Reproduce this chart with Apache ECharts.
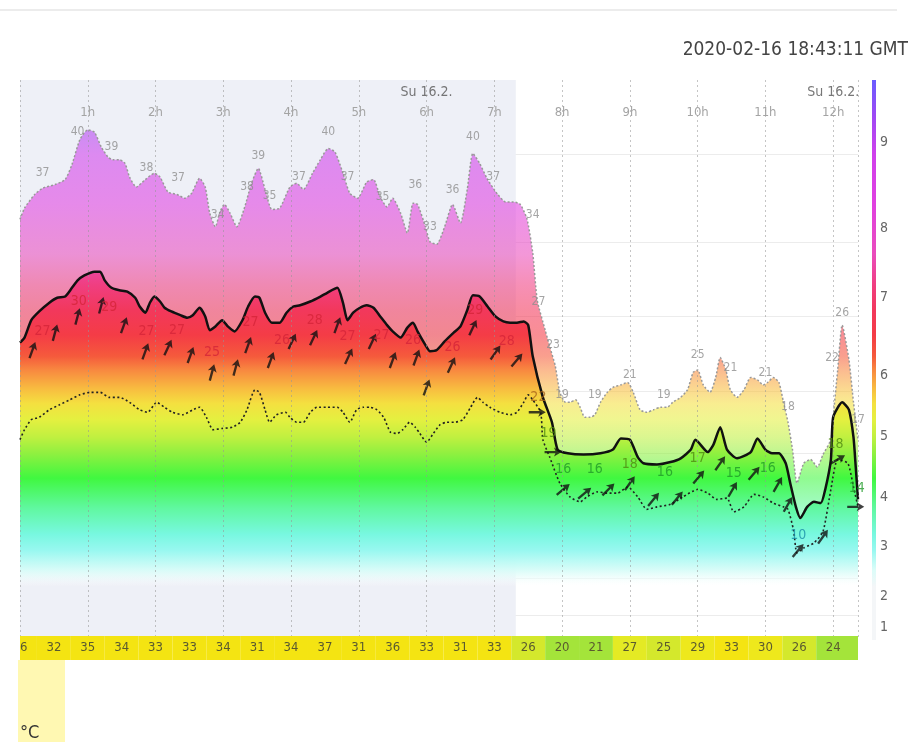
<!DOCTYPE html>
<html>
<head>
<meta charset="utf-8">
<script src="https://cdn.jsdelivr.net/npm/echarts@6/dist/echarts.min.js"></script>
<style>html,body{margin:0;padding:0;background:#fff}#c{width:915px;height:742px}</style>
</head>
<body>
<div id="c"></div>
<script>
// ---- data (time in minutes since 00:00, wind in knots) ----
const gust = [[0,35.8],[4,36.7],[13,37.8],[20,38.3],[31,38.6],[40,39.0],[46,40.2],[53,42.2],[60,43.0],[66,42.8],[72,41.6],[78,40.8],[82,40.6],[88,40.6],[93,40.3],[97,39.2],[103,38.4],[111,39.0],[119,39.5],[124,39.2],[131,38.0],[139,37.8],[146,37.5],[152,37.9],[159,39.1],[164,38.4],[168,36.3],[173,35.2],[177,36.4],[181,37.0],[186,36.3],[192,35.2],[199,36.8],[205,38.7],[211,39.9],[217,38.2],[223,36.6],[230,36.7],[239,38.4],[245,38.7],[251,38.2],[259,39.5],[266,40.6],[273,41.5],[279,41.2],[286,39.5],[292,37.9],[299,37.5],[307,38.8],[313,39.0],[319,37.6],[325,36.8],[330,37.5],[337,36.3],[343,34.7],[348,37.1],[352,37.0],[359,35.2],[363,34.0],[369,33.8],[376,35.2],[383,37.0],[390,35.5],[396,38.2],[401,41.1],[407,40.3],[414,39.0],[423,37.8],[430,37.2],[437,37.2],[443,37.0],[449,35.8],[454,33.1],[458,29.3],[465,26.9],[469,25.6],[474,24.0],[478,21.9],[483,21.1],[487,21.1],[492,21.3],[496,20.7],[500,19.9],[505,19.9],[509,20.1],[514,21.1],[520,21.9],[525,22.3],[532,22.5],[538,22.7],[543,21.9],[549,20.5],[555,20.3],[561,20.5],[567,20.7],[573,20.7],[578,21.1],[585,21.5],[591,22.1],[596,23.5],[600,23.7],[605,22.5],[611,21.9],[616,23.1],[620,24.7],[625,23.7],[629,22.1],[635,21.5],[641,22.1],[647,23.1],[653,22.9],[658,22.5],[662,22.7],[667,23.1],[672,22.7],[676,21.1],[680,19.5],[684,17.3],[688,14.6],[694,16.2],[700,16.5],[706,15.9],[711,16.9],[718,18.1],[720,19.9],[724,23.7],[728,27.3],[734,24.5],[738,21.1],[742,18.1]];

const mean = [[0,25.9],[4,26.3],[10,27.7],[17,28.4],[26,29.1],[33,29.5],[40,29.6],[46,30.3],[51,30.9],[57,31.3],[66,31.6],[71,31.6],[75,30.9],[81,30.3],[88,30.1],[95,30.0],[102,29.5],[106,28.8],[111,28.3],[115,29.1],[119,29.6],[124,29.2],[128,28.7],[134,28.4],[142,28.1],[148,27.9],[153,28.1],[159,28.7],[164,28.0],[168,26.9],[173,27.2],[179,27.7],[184,27.2],[190,26.8],[197,27.7],[202,28.8],[208,29.6],[212,29.5],[217,28.3],[223,27.5],[230,27.5],[236,28.3],[242,28.8],[248,28.9],[257,29.2],[266,29.6],[272,29.9],[281,30.3],[286,29.1],[290,27.7],[295,28.3],[301,28.7],[307,28.9],[313,28.7],[319,28.0],[325,27.3],[330,26.8],[337,26.3],[343,27.1],[348,27.5],[352,26.8],[359,25.7],[363,25.2],[369,25.3],[376,26.0],[384,26.7],[390,27.2],[396,28.5],[401,29.7],[407,29.6],[414,28.8],[421,28.0],[428,27.6],[434,27.5],[440,27.5],[446,27.6],[450,27.3],[454,24.8],[463,21.5],[471,19.5],[476,17.3],[485,17.0],[499,16.9],[514,17.0],[525,17.3],[532,18.2],[540,18.1],[547,16.7],[552,16.2],[564,16.1],[576,16.3],[585,16.6],[594,17.3],[598,18.1],[609,17.1],[614,17.7],[620,19.1],[626,17.3],[635,16.6],[647,17.1],[653,18.2],[660,17.3],[666,17.0],[672,17.0],[678,16.2],[682,14.6],[687,12.7],[691,11.8],[697,12.7],[703,13.1],[709,13.0],[713,14.1],[718,16.5],[720,19.9],[728,21.1],[734,20.5],[738,18.3],[740,15.9],[742,13.3]];

const lower = [[0,18.1],[4,18.9],[10,19.7],[17,19.9],[26,20.5],[35,20.9],[44,21.3],[53,21.7],[62,21.9],[71,21.9],[79,21.5],[88,21.5],[97,21.1],[106,20.5],[113,20.3],[121,21.1],[128,20.7],[135,20.3],[144,20.1],[153,20.5],[159,20.7],[165,19.9],[171,18.9],[179,19.0],[188,19.1],[195,19.5],[201,20.5],[208,22.1],[212,21.9],[217,20.5],[221,19.5],[227,20.1],[235,20.3],[239,19.9],[245,19.5],[251,19.5],[257,20.3],[263,20.7],[272,20.7],[281,20.7],[286,20.3],[292,19.5],[298,20.5],[304,20.7],[310,20.7],[316,20.5],[322,19.9],[328,18.7],[334,18.6],[339,18.9],[345,19.5],[350,19.1],[354,18.6],[360,17.9],[366,18.6],[372,19.3],[378,19.5],[385,19.5],[392,19.7],[399,20.7],[405,21.5],[410,21.1],[416,20.7],[425,20.3],[434,20.1],[440,20.3],[446,21.1],[450,21.7],[454,21.3],[461,20.3],[463,18.1],[469,16.7],[478,14.6],[487,13.5],[496,13.1],[502,13.5],[511,13.9],[520,13.8],[529,13.8],[538,14.3],[547,13.5],[555,12.5],[564,12.7],[576,12.9],[587,13.5],[600,14.1],[609,13.8],[617,13.3],[626,13.4],[632,12.3],[641,12.7],[650,13.7],[658,13.5],[667,13.0],[676,12.7],[680,12.5],[685,10.8],[688,9.0],[694,9.4],[703,9.8],[711,10.7],[718,14.1],[724,16.5],[733,16.2],[738,14.3],[742,12.7]];

// [minute, knots, direction in degrees clockwise from up]
const arrows = [[11,25.3,20],[31,26.7,15],[51,28.0,15],[72,28.9,15],[92,27.3,20],[111,25.2,20],[131,25.5,25],[151,24.9,20],[170,23.5,15],[191,23.9,15],[202,25.7,20],[222,24.5,20],[241,26.0,25],[260,26.3,25],[281,27.3,20],[291,24.8,25],[312,26.0,25],[330,24.5,20],[351,24.7,20],[360,22.3,20],[382,24.1,25],[401,27.1,25],[421,25.1,35],[440,24.5,40],[458,20.3,90],[472,17.1,90],[481,14.1,50],[500,13.8,50],[521,14.1,45],[540,14.6,35],[561,13.3,40],[582,13.4,40],[601,15.1,40],[620,16.2,35],[631,14.1,30],[650,15.4,40],[671,14.5,30],[680,12.9,30],[689,9.2,40],[711,10.3,35],[724,16.5,60],[740,12.7,90]];

const avgLabels = [[20,26.8,'27'],[52,29.2,'30'],[79,28.7,'29'],[112,26.8,'27'],[139,26.9,'27'],[170,25.1,'25'],[204,27.5,'27'],[232,26.1,'26'],[261,27.7,'28'],[290,26.4,'27'],[320,26.5,'27'],[348,26.1,'26'],[383,25.5,'26'],[403,28.5,'29'],[431,26.0,'28'],[459,21.5,'22'],[468,18.6,'19'],[481,15.7,'16'],[509,15.7,'16'],[540,16.1,'18'],[571,15.5,'16'],[600,16.6,'17'],[632,15.4,'15'],[662,15.8,'16'],[689,10.4,'10'],[722,17.7,'18'],[741,14.2,'14']];

const gustLabels = [[20,39.5,'37'],[51,42.8,'40'],[81,41.6,'39'],[112,39.9,'38'],[140,39.1,'37'],[175,36.2,'34'],[201,38.4,'38'],[211,40.9,'39'],[221,37.7,'35'],[247,39.2,'37'],[273,42.8,'40'],[290,39.2,'37'],[321,37.6,'35'],[350,38.6,'36'],[363,35.2,'33'],[383,38.2,'36'],[401,42.4,'40'],[419,39.2,'37'],[454,36.2,'34'],[459,29.2,'27'],[472,25.7,'23'],[480,21.7,'19'],[509,21.7,'19'],[540,23.3,'21'],[570,21.7,'19'],[600,24.9,'25'],[629,23.9,'21'],[660,23.5,'21'],[680,20.7,'18'],[719,24.7,'22'],[728,28.3,'26'],[742,19.7,'17']];

const dayLabels = [[360,46,'Su 16.2.'],[720,46,'Su 16.2.']];

const tempTimes = [0,30,60,90,120,150,180,210,240,270,300,330,360,390,420,450,480,510,540,570,600,630,660,690,720];
const temps = [36,32,35,34,33,33,34,31,34,37,31,36,33,31,33,26,20,21,27,25,29,33,30,26,24];

const bftBounds = [4,7,11,17,22,28,34,41];
const bftLabelKt = [3,5.5,9.5,13.5,18.4,23.3,29.5,35.1,42];

const timestamp = '2020-02-16 18:43:11 GMT';

// ---- styling ----
const FONT = "'Liberation Sans Narrow','DejaVu Sans Condensed','Arial Narrow','Liberation Sans',sans-serif";
const Y_MIN = 2, Y_MAX = 47, X_MAX = 742;
const colorScale = [
  [47,'#6a5cff'],[44,'#a048f4'],[41,'#d040ec'],[37,'#e040e0'],[33,'#ea4cbc'],[30.5,'#f03e80'],
  [28.5,'#f2385c'],[26.5,'#f43c46'],[24.8,'#f55a3c'],[23.7,'#f88840'],[22.2,'#f8bc40'],[21,'#f4e040'],
  [19.7,'#e4f040'],[18.3,'#c0f040'],[17,'#90f040'],[15,'#40f840'],[12.6,'#60f8a0'],[10.5,'#78f8e0'],
  [9.2,'#98f8f0'],[7.6,'rgba(216,252,248,0.9)'],[6.3,'rgba(255,255,255,0)'],[2,'rgba(255,255,255,0)']
];
const stops = colorScale.map(([k,c]) => ({offset:(Y_MAX-k)/(Y_MAX-Y_MIN), color:c}));
const GRID_TOP = 80, GRID_H = 560;
const fillGrad = {type:'linear', x:0, y:GRID_TOP, x2:0, y2:GRID_TOP+GRID_H, global:true, colorStops:stops};
const barGrad = {type:'linear', x:0, y:0, x2:0, y2:1, colorStops:stops.map(s => ({offset:s.offset, color: s.color.indexOf('rgba(255,255,255,0)')===0 ? '#f4f6f8' : s.color}))};

function avgColor(t){ const v = +t; if (v>=24) return '#d42438'; if (v>=20) return '#a8641a'; if (v>=17) return '#4f8a10'; if (v>=12) return '#1f9a28'; return '#1a8ea8'; }
function tempColor(v){ if (v>=31) return '#f4e412'; if (v>=29) return '#eee81c'; if (v>=27) return '#e4ea24'; if (v>=25) return '#d4e82c'; return '#a4e43a'; }

const chart = echarts.init(document.getElementById('c'), null, {renderer:'canvas'});
chart.setOption({
  animation:false,
  backgroundColor:'#fff',
  title:{text:timestamp, right:2, top:36, textStyle:{fontFamily:FONT, fontSize:19, fontWeight:'normal', color:'#444'}},
  graphic:[
    {type:'line', shape:{x1:0,y1:10,x2:897,y2:10}, style:{stroke:'#ececec', lineWidth:2}},
    {type:'rect', shape:{x:872,y:GRID_TOP,width:4,height:GRID_H}, style:{fill:barGrad}},
    {type:'rect', shape:{x:18,y:660,width:47,height:82}, style:{fill:'#fff8b2'}},
    {type:'text', x:20, y:724, style:{text:'°C', font:'18px '+FONT, fill:'#333'}}
  ],
  grid:[
    {left:20, right:57, top:GRID_TOP, height:GRID_H, outerBoundsMode:'none'},
    {left:20, right:57, top:636, height:24, outerBoundsMode:'none'}
  ],
  xAxis:[
    {gridIndex:0, type:'value', min:0, max:X_MAX, interval:60, position:'top', z:8,
     axisLine:{show:false}, axisTick:{show:false},
     axisLabel:{inside:true, margin:26, showMinLabel:false, showMaxLabel:false, formatter:v => (v/60)+'h', color:'#a4a4a4', fontSize:13, fontFamily:FONT},
     splitLine:{show:true, lineStyle:{color:'rgba(150,150,150,0.55)', type:[2,3], width:1}}},
    {gridIndex:1, type:'value', min:0, max:X_MAX, show:false}
  ],
  yAxis:[
    {gridIndex:0, type:'value', min:Y_MIN, max:Y_MAX, position:'right', z:0,
     axisLine:{show:false}, axisTick:{show:false, customValues:bftBounds},
     splitLine:{show:true, lineStyle:{color:'#ececec', width:1}},
     axisLabel:{customValues:bftLabelKt, margin:22, color:'#666', fontSize:14, fontFamily:FONT,
       formatter:v => { const i = bftLabelKt.indexOf(v); return i>=0 ? String(i+1) : ''; }}},
    {gridIndex:1, type:'value', min:0, max:1, show:false}
  ],
  series:[
    {type:'line', name:'gust', data:gust, smooth:0.2, symbol:'none', z:2,
     lineStyle:{color:'#999', width:1.5, type:[2,2]},
     areaStyle:{color:fillGrad, opacity:0.58},
     markArea:{silent:true, itemStyle:{color:'#eef0f7'}, data:[[{xAxis:0},{xAxis:439}]]}},
    {type:'line', name:'mean', data:mean, smooth:0.2, symbol:'none', z:3,
     lineStyle:{color:'#111', width:2.5},
     areaStyle:{color:fillGrad, opacity:1}},
    {type:'line', name:'lower', data:lower, smooth:0.2, symbol:'none', z:4,
     lineStyle:{color:'#222', width:1.6, type:[2,2.5]}},
    {type:'scatter', name:'dir', data:arrows, z:5,
     symbol:'path://M5,0 L10,8 L6.3,6.5 L6.3,18 L3.7,18 L3.7,6.5 L0,8 Z',
     symbolSize:[9,17], symbolRotate:v => -v[2], itemStyle:{color:'#111'}},
    {type:'scatter', name:'avgLab', z:6, symbolSize:1, itemStyle:{color:'rgba(0,0,0,0)'},
     data:avgLabels.map(d => ({value:d, label:{color:avgColor(d[2])}})),
     label:{show:true, position:'inside', formatter:p => p.value[2], fontSize:14, fontFamily:FONT}},
    {type:'scatter', name:'gustLab', z:6, symbolSize:1, itemStyle:{color:'rgba(0,0,0,0)'},
     data:gustLabels,
     label:{show:true, position:'inside', formatter:p => p.value[2], fontSize:12, color:'#8e8e8e', fontFamily:FONT}},
    {type:'scatter', name:'day', z:6, symbolSize:1, itemStyle:{color:'rgba(0,0,0,0)'},
     data:dayLabels,
     label:{show:true, position:'inside', formatter:p => p.value[2], fontSize:14, color:'#555', fontFamily:FONT}},
    {type:'custom', name:'temp', xAxisIndex:1, yAxisIndex:1, clip:true, z:10,
     data:tempTimes.map((t,i) => [t, temps[i]]),
     renderItem:(params, api) => {
       const t = api.value(0), v = api.value(1), i = params.dataIndex;
       const x1 = Math.max(t-15, 0), x2 = (i === tempTimes.length-1) ? X_MAX : t+15;
       const p1 = api.coord([x1,1]), p2 = api.coord([x2,0]), pc = api.coord([t,0.5]);
       return {type:'group', children:[
         {type:'rect', shape:{x:p1[0], y:p1[1], width:p2[0]-p1[0], height:p2[1]-p1[1]}, style:{fill:tempColor(v)}},
         {type:'text', x:pc[0], y:pc[1], style:{text:String(v), align:'center', verticalAlign:'middle', font:'13px '+FONT, fill:'#5a5a30'}}
       ]};
     }}
  ]
});
</script>
</body>
</html>
